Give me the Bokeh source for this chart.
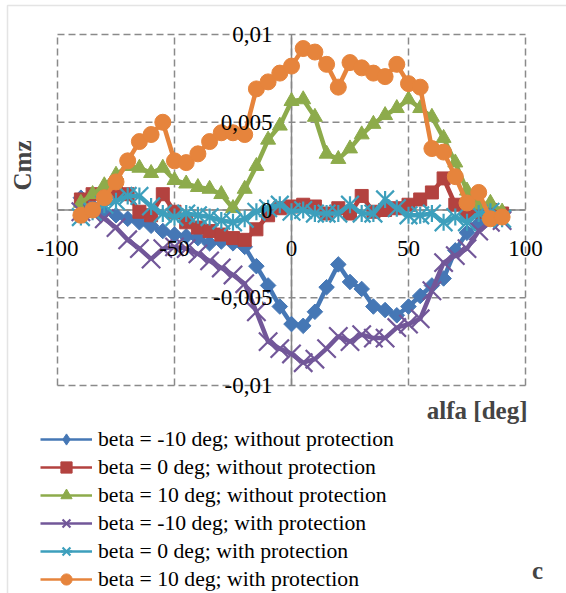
import numpy as np
from bokeh.plotting import figure
from bokeh.models import (Range1d, ColumnDataSource, LabelSet, Label,
                          Legend, LegendItem, BoxAnnotation)
from bokeh.embed import file_html
from bokeh.resources import INLINE

# angle of attack, deg
alfa = list(range(-90, 95, 5))

# yawing moment coefficient Cmz
cmz_beta_m10_without = [0.0007, 0.0002, -0.0001, -0.0003, -0.0005, -0.0007, -0.0009, -0.0012,
                        -0.0014, -0.0015, -0.0016, -0.0019, -0.0018, -0.0019, -0.0021, -0.0032,
                        -0.0043, -0.0055, -0.0065, -0.0066, -0.0058, -0.0044, -0.0031, -0.0041,
                        -0.0045, -0.0055, -0.0057, -0.0060, -0.0055, -0.0049, -0.0043, -0.0039,
                        -0.0023, -0.0013, -0.0008, -0.0004, -0.0002]
cmz_beta_0_without = [0.0006, 0.0009, 0.0008, 0.0010, 0.0009, -0.0001, -0.0003, 0.0009,
                      -0.0001, -0.0007, -0.0010, -0.0012, -0.0014, -0.0016, -0.0017, -0.0011,
                      -0.0003, 0.0001, 0.0002, 0.0003, 0.0002, -0.0002, 0.0001, -0.0002,
                      0.0008, -0.0001, 0.0000, 0.0001, 0.0003, 0.0006, 0.0010, 0.0018,
                      0.0003, -0.0002, -0.0001, 0.0000, -0.0002]
cmz_beta_10_without = [0.0004, 0.0009, 0.0014, 0.0020, 0.0025, 0.0024, 0.0021, 0.0024,
                       0.0017, 0.0015, 0.0013, 0.0012, 0.0009, 0.0001, 0.0012, 0.0025,
                       0.0040, 0.0048, 0.0062, 0.0063, 0.0053, 0.0032, 0.0029, 0.0035,
                       0.0043, 0.0049, 0.0054, 0.0058, 0.0063, 0.0058, 0.0053, 0.0041,
                       0.0027, 0.0011, 0.0003, 0.0004, -0.0001]
cmz_beta_m10_with = [-0.0001, -0.0002, -0.0005, -0.0010, -0.0017, -0.0022, -0.0028, -0.0022,
                     -0.0021, -0.0022, -0.0025, -0.0029, -0.0033, -0.0037, -0.0042, -0.0058,
                     -0.0075, -0.0079, -0.0082, -0.0087, -0.0085, -0.0079, -0.0072, -0.0075,
                     -0.0071, -0.0073, -0.0073, -0.0067, -0.0065, -0.0062, -0.0046, -0.0030,
                     -0.0026, -0.0022, -0.0012, -0.0007, -0.0006]
cmz_beta_0_with = [-0.0004, -0.0001, 0.0003, 0.0005, 0.0008, 0.0008, 0.0002, -0.0002,
                   -0.0004, -0.0002, -0.0003, -0.0004, -0.0006, -0.0007, -0.0005, -0.0001,
                   0.0001, 0.0003, -0.0001, 0.0000, -0.0002, -0.0002, -0.0002, 0.0003,
                   -0.0002, -0.0002, 0.0006, 0.0001, -0.0003, -0.0003, -0.0002, -0.0007,
                   -0.0004, -0.0007, -0.0002, -0.0001, -0.0005]
cmz_beta_10_with = [-0.0003, 0.0000, 0.0007, 0.0016, 0.0028, 0.0039, 0.0043, 0.0050,
                    0.0028, 0.0027, 0.0032, 0.0039, 0.0044, 0.0044, 0.0043, 0.0069,
                    0.0073, 0.0078, 0.0082, 0.0092, 0.0090, 0.0083, 0.0070, 0.0084,
                    0.0081, 0.0078, 0.0076, 0.0083, 0.0072, 0.0070, 0.0035, 0.0033,
                    0.0019, 0.0004, 0.0010, -0.0005, -0.0004]

series_labels = [
    "beta = -10 deg; without protection",
    "beta = 0 deg; without protection",
    "beta = 10 deg; without protection",
    "beta = -10 deg; with protection",
    "beta = 0 deg; with protection",
    "beta = 10 deg; with protection",
]

x_ticks = [-100, -50, 0, 50, 100]
x_tick_labels = ["-100", "-50", "0", "50", "100"]
y_ticks = [-0.01, -0.005, 0.0, 0.005, 0.01]
y_tick_labels = ["-0,01", "-0,005", "0", "0,005", "0,01"]

FONT = "Liberation Serif"
W, H = 566, 593
# plot-area placement on the canvas (pixels)
PL, PR, PT, PB = 57, 525, 34, 385

xmin, xmax = x_ticks[0], x_ticks[-1]
ymin, ymax = y_ticks[0], y_ticks[-1]
kx = (xmax - xmin) / (PR - PL)
ky = (ymax - ymin) / (PB - PT)
x_range = Range1d(xmin - PL * kx, xmax + (W - PR) * kx)
y_range = Range1d(ymin - (H - PB) * ky, ymax + PT * ky)

p = figure(width=W, height=H, output_backend="svg", toolbar_location=None,
           x_range=x_range, y_range=y_range,
           min_border=0, min_border_left=0, min_border_right=0,
           min_border_top=0, min_border_bottom=0)
p.title.visible = False
p.outline_line_color = None
p.xaxis.visible = False
p.yaxis.visible = False
p.grid.visible = False
p.background_fill_color = "white"
p.border_fill_color = "white"

# outer chart frame
p.add_layout(BoxAnnotation(left=7, right=W + 50, top=5, bottom=H + 50,
                           left_units="canvas", right_units="canvas",
                           top_units="canvas", bottom_units="canvas",
                           fill_alpha=0, line_color="#a6a6a6", line_width=1.5))

# dashed grid over the plot area
nx, ny = len(x_ticks), len(y_ticks)
p.segment(x0=x_ticks, y0=[ymin] * nx, x1=x_ticks, y1=[ymax] * nx,
          line_color="#8a8a8a", line_width=1.5, line_dash="7 4")
p.segment(x0=[xmin] * ny, y0=y_ticks, x1=[xmax] * ny, y1=y_ticks,
          line_color="#8a8a8a", line_width=1.5, line_dash="7 4")

# axes crossing at the origin
p.segment(x0=[0, xmin], y0=[ymin, 0], x1=[0, xmax], y1=[ymax, 0],
          line_color="#868686", line_width=1.5)

styles = [
    dict(color="#4577B5", marker="square", size=11, angle=np.pi / 4, key="diamond", ksize=17),
    dict(color="#B3423F", marker="square", size=13, angle=0.0, key="square", ksize=14),
    dict(color="#8DAB4B", marker="triangle", size=15, angle=0.0, key="triangle", ksize=15),
    dict(color="#725799", marker="x", size=26, angle=0.0, key="x", ksize=22),
    dict(color="#3D9FBC", marker="x", size=25, angle=0.0, key="x", ksize=22),
    dict(color="#E6843C", marker="circle", size=16, angle=0.0, key="circle", ksize=16),
]
values = [cmz_beta_m10_without, cmz_beta_0_without, cmz_beta_10_without,
          cmz_beta_m10_with, cmz_beta_0_with, cmz_beta_10_with]

# legend keys are drawn from a source whose single row is not plotted
key_src = ColumnDataSource(dict(x=[np.nan], y=[np.nan]))
items = []
for i, (lab, ys, st) in enumerate(zip(series_labels, values, styles)):
    src = ColumnDataSource(dict(x=alfa, y=ys))
    c = st["color"]
    p.line("x", "y", source=src, line_color=c, line_width=4.5)
    if st["marker"] == "x":
        p.scatter("x", "y", source=src, marker="x", size=st["size"],
                  line_color=c, line_width=2.2)
    else:
        p.scatter("x", "y", source=src, marker=st["marker"], size=st["size"],
                  angle=st["angle"], fill_color=c, line_color=c)
    if i == 4:
        # vertical stroke turns the cross into a star marker
        p.scatter("x", "y", source=src, marker="dash", size=st["size"] - 8,
                  angle=np.pi / 2, line_color=c, line_width=2.2)

    # legend key: thinner line with the series marker
    keys = [p.line("x", "y", source=key_src, line_color=c, line_width=2.5)]
    if st["key"] == "x":
        keys.append(p.scatter("x", "y", source=key_src, marker="x", size=st["ksize"],
                              line_color=c, line_width=2.2))
        if i == 4:
            keys.append(p.scatter("x", "y", source=key_src, marker="dash",
                                  size=st["ksize"] - 7, angle=np.pi / 2,
                                  line_color=c, line_width=2.2))
    else:
        keys.append(p.scatter("x", "y", source=key_src, marker=st["key"], size=st["ksize"],
                              fill_color=c, line_color=c))
    items.append(LegendItem(label=lab, renderers=keys))

# tick labels
xsrc = ColumnDataSource(dict(x=x_ticks, y=[0] * nx, t=x_tick_labels))
p.add_layout(LabelSet(x="x", y="y", text="t", source=xsrc, y_offset=-38,
                      text_align="center", text_baseline="middle",
                      text_font=FONT, text_font_size="23px", text_color="black"))
ysrc = ColumnDataSource(dict(x=[0] * ny, y=y_ticks, t=y_tick_labels))
p.add_layout(LabelSet(x="x", y="y", text="t", source=ysrc, x_offset=-19,
                      text_align="right", text_baseline="middle",
                      text_font=FONT, text_font_size="23px", text_color="black"))

# axis titles and panel letter (screen units from the bottom-left corner)
p.add_layout(Label(x=22, y=H - 165, x_units="screen", y_units="screen", text="Cmz",
                   angle=np.pi / 2, text_align="center", text_baseline="middle",
                   text_font=FONT, text_font_size="25px", text_font_style="bold"))
p.add_layout(Label(x=527, y=H - 410, x_units="screen", y_units="screen", text="alfa [deg]",
                   text_align="right", text_baseline="middle",
                   text_font=FONT, text_font_size="25px", text_font_style="bold"))
p.add_layout(Label(x=537, y=H - 570, x_units="screen", y_units="screen", text="c",
                   text_align="center", text_baseline="middle",
                   text_font=FONT, text_font_size="25px", text_font_style="bold"))

legend = Legend(items=items, location=(40, 0), orientation="vertical",
                glyph_width=52, glyph_height=28, label_height=28, spacing=0,
                label_standoff=6, padding=0, margin=0,
                label_text_font=FONT, label_text_font_size="21.7px",
                label_text_color="black", border_line_color=None,
                background_fill_alpha=0)
p.add_layout(legend)

open("out.html", "w").write(file_html(p, INLINE))
